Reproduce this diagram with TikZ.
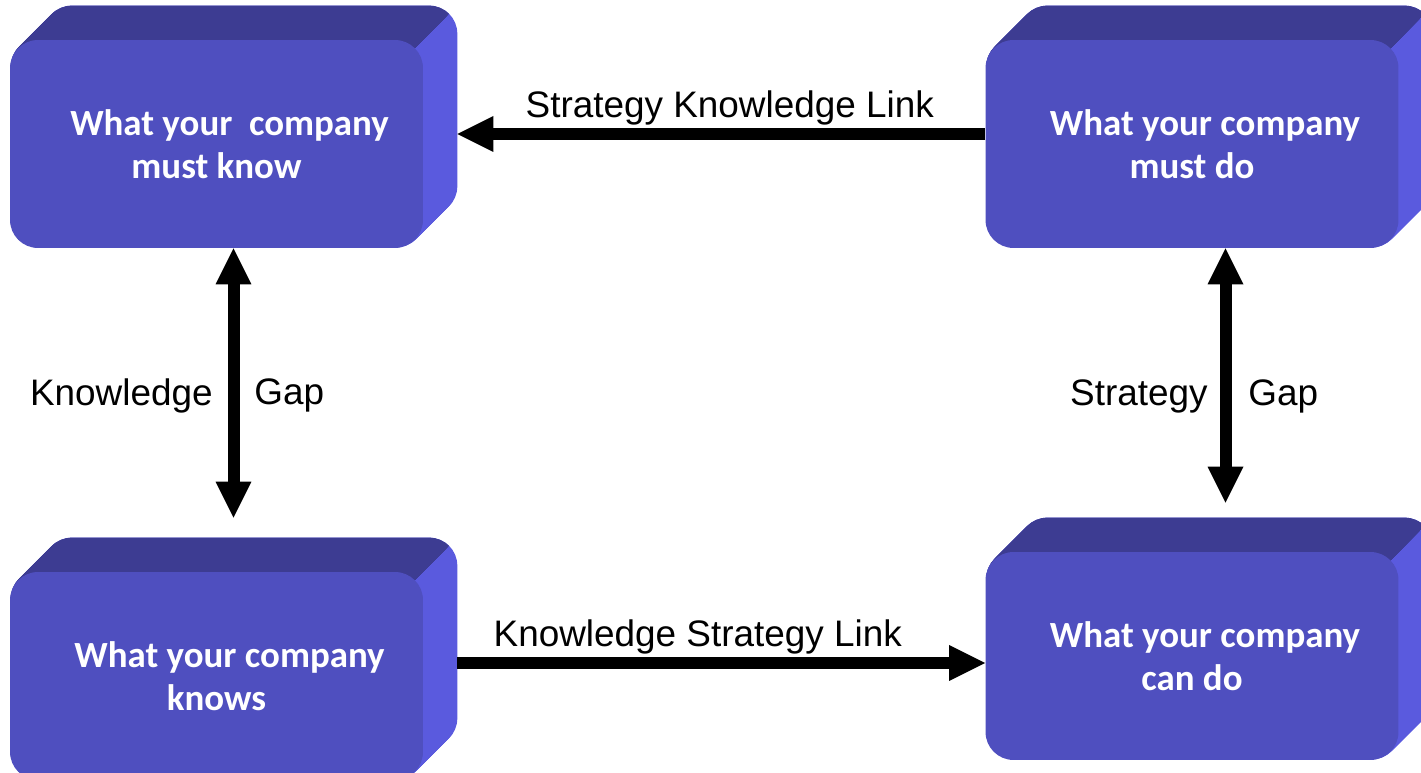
\documentclass[tikz,border=0pt]{standalone}
\usepackage{fontspec}
\setmainfont{Liberation Sans}
\newfontfamily\boxfont{Carlito}
\usepackage{tikz}
\usepackage{xcolor}
\usetikzlibrary{positioning, arrows.meta, calc, backgrounds}

\definecolor{frontblue}{RGB}{79,79,191}
\definecolor{topblue}{RGB}{61,60,146}
\definecolor{sideblue}{RGB}{90,90,222}

\tikzset{
    facebox/.style={rectangle, rounded corners=0.56cm, fill=frontblue, text=white,
        minimum width=8.26cm, minimum height=4.16cm, inner sep=0pt, align=center,
        font=\boxfont\bfseries\fontsize{21}{24.5}\selectfont},
    link/.style={line width=0.24cm, -{Triangle[length=0.72cm, width=0.72cm, line width=0pt]}},
    gap/.style={line width=0.24cm, {Triangle[length=0.72cm, width=0.72cm, line width=0pt]}-{Triangle[length=0.72cm, width=0.72cm, line width=0pt]}},
    tag/.style={font=\fontsize{21}{25}\selectfont}
}

\begin{document}
\begin{tikzpicture}[x=0.02cm, y=0.02cm]
            \useasboundingbox (0,0) rectangle (1421,773);

            \node[facebox] (know) at (216.5,629) {\hspace*{0.52cm}What your\ \ company\\must know};
            \node[facebox] (mustdo) at (1192,629) {\hspace*{0.52cm}What your company\\must do};
            \node[facebox] (knows) at (216.5,97) {\hspace*{0.52cm}What your company\\knows};
            \node[facebox] (cando) at (1192,117) {\hspace*{0.52cm}What your company\\can do};

            % depth of the boxes
            \begin{scope}[on background layer]
                \foreach \cube in {know,mustdo,knows,cando} {
                    \foreach \t in {1,...,34}
                        \fill[sideblue, rounded corners=0.56cm] ($(\cube.south west)+(\t,\t)$) rectangle ($(\cube.north east)+(\t,\t)$);
                    \begin{scope}
                        \clip ($(\cube.north east)+(-628,-628)$) -- ($(\cube.north east)+(72,72)$) -- ($(\cube.north east)+(-628,72)$) -- cycle;
                        \foreach \t in {1,...,34}
                            \fill[topblue, rounded corners=0.56cm] ($(\cube.south west)+(\t,\t)$) rectangle ($(\cube.north east)+(\t,\t)$);
                    \end{scope}
                }
            \end{scope}

            \draw[link] ($(mustdo.west)+(0,10)$) -- node[above=-1.7pt, xshift=0.17cm, tag] {Strategy Knowledge Link} ($(know.east)+(34,10)$);
            \draw[link] ($(knows.east)+(34,13)$) -- node[above=-1.7pt, xshift=-0.47cm, tag] {Knowledge Strategy Link} ($(cando.west)+(0,-7)$);

            \draw[gap] ($(know.south)+(17,0)$) --
                node[pos=0.548, left=0.18cm, tag] {Knowledge}
                node[pos=0.548, right=0.18cm, tag] {Gap}
                ($(knows.north)+(17,54)$);
            \draw[gap] ($(mustdo.south)+(33.5,0)$) --
                node[pos=0.581, left=0.12cm, tag] {Strategy}
                node[pos=0.581, right=0.22cm, tag] {Gap}
                ($(cando.north)+(33.5,49)$);
        \end{tikzpicture}
\end{document}
